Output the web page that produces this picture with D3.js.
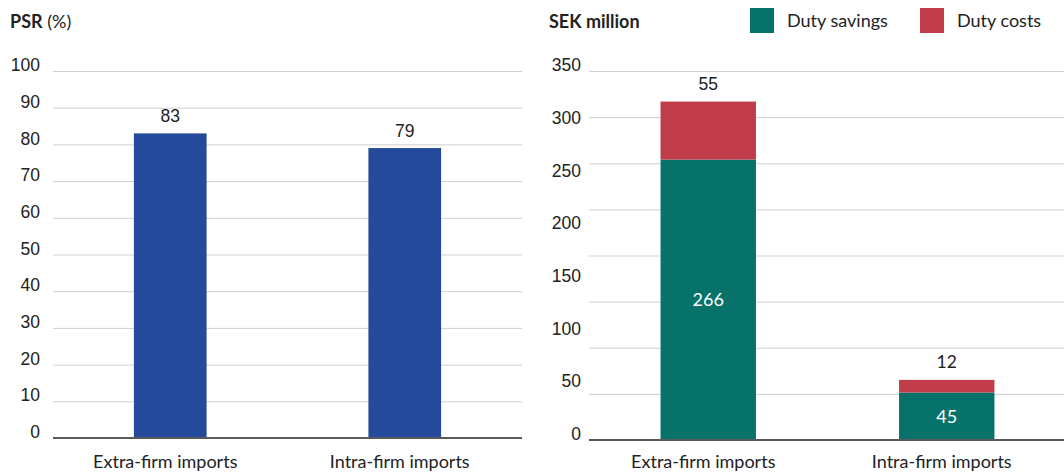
<!DOCTYPE html>
<html>
<head>
<meta charset="utf-8">
<script src="https://cdn.jsdelivr.net/npm/d3@7"></script>
<style>
  html, body { margin: 0; padding: 0; background: #fff; }
  svg { display: block; }
  .num { font-family: "Liberation Sans", Arial, sans-serif; }
  .geo { font-family: Lato, "Noto Sans", sans-serif; }
</style>
</head>
<body>
<svg id="chart" width="1064" height="475"></svg>
<script>
// Categories shared by both panels
const categories = ["Extra-firm imports", "Intra-firm imports"];

// Left panel: PSR share (%)
const psrValues = [83, 79];
const psrTicks = [0, 10, 20, 30, 40, 50, 60, 70, 80, 90, 100];

// Right panel: SEK million, stacked
const dutySavings = [266, 45];
const dutyCosts = [55, 12];
const sekTicks = [0, 50, 100, 150, 200, 250, 300, 350];
const seriesNames = ["Duty savings", "Duty costs"];

const BLUE = "#234a9b";
const TEAL = "#06726a";
const RED = "#bf3c48";
const TEXT = "#222";
const GRID = "#cfcfcf";
const AXIS = "#5a5a5a";
const NUM_SIZE = 17.5;

const svg = d3.select("#chart");

// ---------- Left panel ----------
const L = svg.append("g");
const xL = d3.scaleBand().domain(categories).range([53, 522])
  .paddingInner(0.69).paddingOuter(0.345);
const yL = d3.scaleLinear().domain([0, 100]).range([438, 71]);

L.append("text").attr("x", 10).attr("y", 28).attr("class", "geo")
  .attr("font-size", 18).attr("fill", TEXT)
  .call(t => {
    t.append("tspan").attr("font-weight", 700).text("PSR");
    t.append("tspan").text(" (%)");
  });

L.selectAll("line.grid").data(psrTicks.filter(d => d > 0)).join("line")
  .attr("class", "grid")
  .attr("x1", 53).attr("x2", 522)
  .attr("y1", d => yL(d) + 0.5).attr("y2", d => yL(d) + 0.5)
  .attr("stroke", GRID).attr("stroke-width", 1);

L.selectAll("text.tick").data(psrTicks).join("text")
  .attr("class", "tick num")
  .attr("x", 40).attr("y", d => yL(d) - 6)
  .attr("dy", "0.35em")
  .attr("text-anchor", "end").attr("font-size", NUM_SIZE).attr("fill", TEXT)
  .text(d => d);

L.selectAll("rect.bar").data(psrValues).join("rect")
  .attr("class", "bar")
  .attr("x", (d, i) => xL(categories[i]))
  .attr("width", xL.bandwidth())
  .attr("y", d => yL(d))
  .attr("height", d => yL(0) - yL(d))
  .attr("fill", BLUE);

L.selectAll("text.val").data(psrValues).join("text")
  .attr("class", "val num")
  .attr("x", (d, i) => xL(categories[i]) + xL.bandwidth() / 2)
  .attr("y", d => yL(d) - 11)
  .attr("text-anchor", "middle").attr("font-size", NUM_SIZE).attr("fill", TEXT)
  .text(d => d);

L.append("line").attr("x1", 53).attr("x2", 522)
  .attr("y1", yL(0)).attr("y2", yL(0))
  .attr("stroke", AXIS).attr("stroke-width", 2);

L.selectAll("text.cat").data(categories).join("text")
  .attr("class", "cat geo")
  .attr("x", d => xL(d) + xL.bandwidth() / 2 - 5)
  .attr("y", 468)
  .attr("text-anchor", "middle").attr("font-size", 18).attr("fill", TEXT)
  .text(d => d);

// ---------- Right panel ----------
const R = svg.append("g");
const xR = d3.scaleBand().domain(categories).range([589, 1066])
  .paddingInner(0.6).paddingOuter(0.3);
const yR = d3.scaleLinear().domain([0, 350]).range([440, 71]);

R.append("text").attr("x", 549).attr("y", 28).attr("class", "geo")
  .attr("font-size", 18).attr("font-weight", 700).attr("fill", TEXT)
  .text("SEK million");

// Legend
const legendX = [750, 920];
const legendColors = [TEAL, RED];
seriesNames.forEach((name, i) => {
  R.append("rect").attr("x", legendX[i]).attr("y", 8)
    .attr("width", 24).attr("height", 25).attr("fill", legendColors[i]);
  R.append("text").attr("class", "geo")
    .attr("x", legendX[i] + 37).attr("y", 21).attr("dy", "0.35em")
    .attr("font-size", 18).attr("fill", TEXT).text(name);
});

// Gridlines split the 0–350 span into eight equal bands
const gridVals = d3.range(1, 9).map(i => i * 350 / 8);
R.selectAll("line.grid").data(gridVals).join("line")
  .attr("class", "grid")
  .attr("x1", 589).attr("x2", 1064)
  .attr("y1", d => yR(d) + 0.5).attr("y2", d => yR(d) + 0.5)
  .attr("stroke", GRID).attr("stroke-width", 1);

R.selectAll("text.tick").data(sekTicks).join("text")
  .attr("class", "tick num")
  .attr("x", 581).attr("y", d => yR(d) - 6)
  .attr("dy", "0.35em")
  .attr("text-anchor", "end").attr("font-size", NUM_SIZE).attr("fill", TEXT)
  .text(d => d);

const stackData = categories.map((c, i) => ({
  cat: c, savings: dutySavings[i], costs: dutyCosts[i]
}));
const stacked = d3.stack().keys(["savings", "costs"])(stackData);
const stackColors = { savings: TEAL, costs: RED };

R.selectAll("g.layer").data(stacked).join("g")
  .attr("class", "layer")
  .attr("fill", d => stackColors[d.key])
  .selectAll("rect").data(d => d).join("rect")
  .attr("x", d => xR(d.data.cat))
  .attr("width", xR.bandwidth())
  .attr("y", d => yR(d[1]))
  .attr("height", d => yR(d[0]) - yR(d[1]));

// Savings labels inside the teal segment
R.selectAll("text.sav").data(stacked[0]).join("text")
  .attr("class", "sav geo")
  .attr("x", d => xR(d.data.cat) + xR.bandwidth() / 2)
  .attr("y", d => (yR(d[0]) + yR(d[1])) / 2)
  .attr("dy", "0.35em")
  .attr("text-anchor", "middle").attr("font-size", 18).attr("fill", "#fff")
  .text(d => d.data.savings);

// Cost labels above the stack
R.selectAll("text.cost").data(stacked[1]).join("text")
  .attr("class", (d, i) => i === 0 ? "cost num" : "cost geo")
  .attr("x", d => xR(d.data.cat) + xR.bandwidth() / 2)
  .attr("y", d => yR(d[1]) - 12)
  .attr("text-anchor", "middle").attr("font-size", NUM_SIZE).attr("fill", TEXT)
  .text(d => d.data.costs);

R.append("line").attr("x1", 589).attr("x2", 1064)
  .attr("y1", yR(0)).attr("y2", yR(0))
  .attr("stroke", AXIS).attr("stroke-width", 2);

R.selectAll("text.cat").data(categories).join("text")
  .attr("class", "cat geo")
  .attr("x", d => xR(d) + xR.bandwidth() / 2 - 5)
  .attr("y", 468)
  .attr("text-anchor", "middle").attr("font-size", 18).attr("fill", TEXT)
  .text(d => d);
</script>
</body>
</html>
